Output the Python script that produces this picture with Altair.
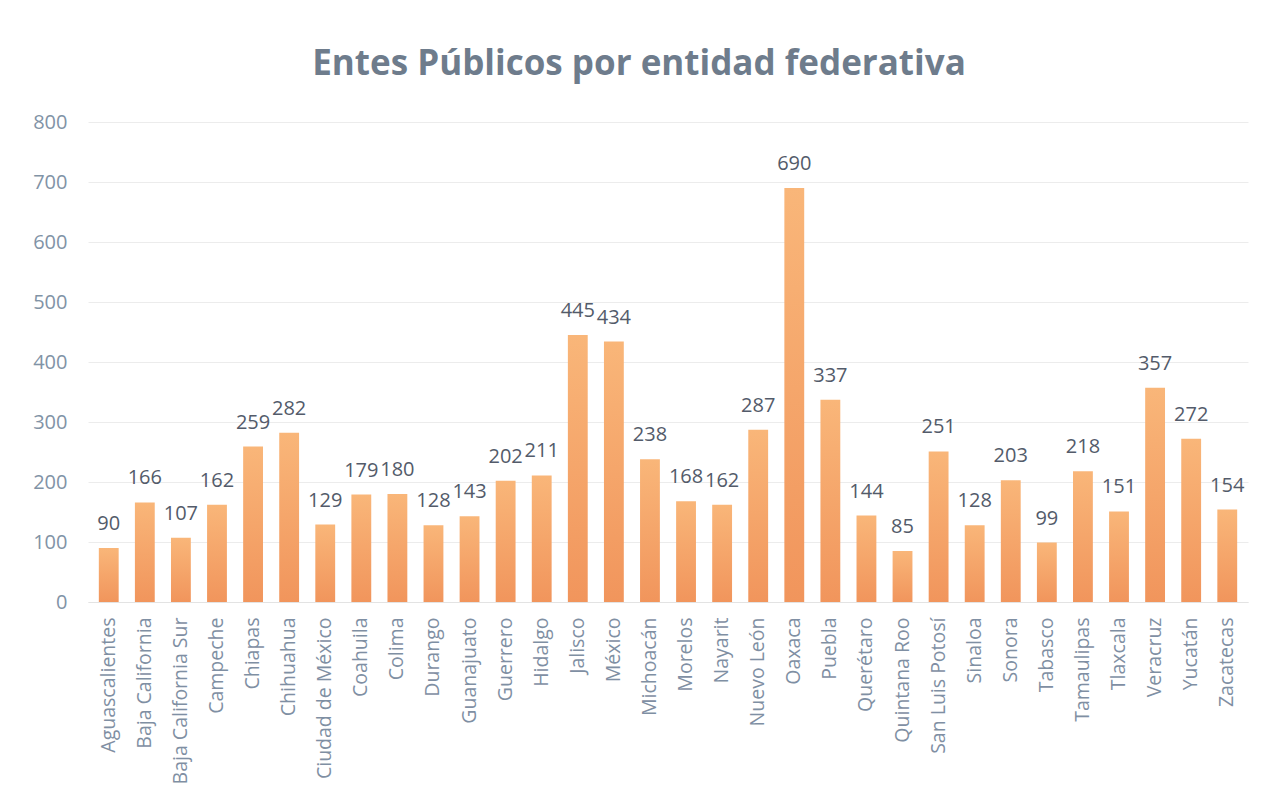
import altair as alt
import pandas as pd

estados = ["Aguascalientes", "Baja California", "Baja California Sur", "Campeche", "Chiapas",
           "Chihuahua", "Ciudad de México", "Coahuila", "Colima", "Durango", "Guanajuato",
           "Guerrero", "Hidalgo", "Jalisco", "México", "Michoacán", "Morelos", "Nayarit",
           "Nuevo León", "Oaxaca", "Puebla", "Querétaro", "Quintana Roo", "San Luis Potosí",
           "Sinaloa", "Sonora", "Tabasco", "Tamaulipas", "Tlaxcala", "Veracruz", "Yucatán",
           "Zacatecas"]
entes = [90, 166, 107, 162, 259, 282, 129, 179, 180, 128, 143, 202, 211, 445, 434, 238,
         168, 162, 287, 690, 337, 144, 85, 251, 128, 203, 99, 218, 151, 357, 272, 154]
y_ticks = [0, 100, 200, 300, 400, 500, 600, 700, 800]

df = pd.DataFrame({"estado": estados, "entes": entes})

FONT = "Open Sans"
x = alt.X("estado:N", sort=estados, title=None,
          scale=alt.Scale(paddingInner=0.45, paddingOuter=0.3),
          axis=alt.Axis(labelAngle=-90, labelFont=FONT, labelFontSize=19.5,
                        labelColor="#7f8fa3", labelPadding=15, ticks=False,
                        domain=True, domainColor="#e3e3e3", labelLimit=300))
y = alt.Y("entes:Q", title=None,
          scale=alt.Scale(domain=[0, 800], nice=False),
          axis=alt.Axis(values=y_ticks, labelFont=FONT, labelFontSize=20,
                        labelColor="#8193a6", labelPadding=21, ticks=False,
                        domain=False, grid=True, gridColor="#ececec"))

bars = alt.Chart(df).mark_bar(
    color=alt.Gradient(gradient="linear", x1=0, y1=0, x2=0, y2=1,
                       stops=[alt.GradientStop(offset=0, color="#f9b679"),
                              alt.GradientStop(offset=1, color="#f1955c")])
).encode(x=x, y=y)

labels = alt.Chart(df).mark_text(
    baseline="bottom", dy=-14, font=FONT, fontSize=20, color="#535b6a"
).encode(x=x, y=y, text="entes:Q")

chart = (bars + labels).properties(
    width=1160, height=480,
    title=alt.TitleParams("Entes Públicos por entidad federativa", font=FONT,
                          fontSize=35, fontWeight="bold", color="#6e7c8c",
                          offset=30, dx=-29, anchor="middle"),
    autosize=alt.AutoSizeParams(type="none"),
    padding={"left": 88, "top": 122, "right": 25, "bottom": 200},
).configure(background="white").configure_view(stroke=None)

chart.save("out.html", embed_options={"renderer": "svg", "actions": False})
